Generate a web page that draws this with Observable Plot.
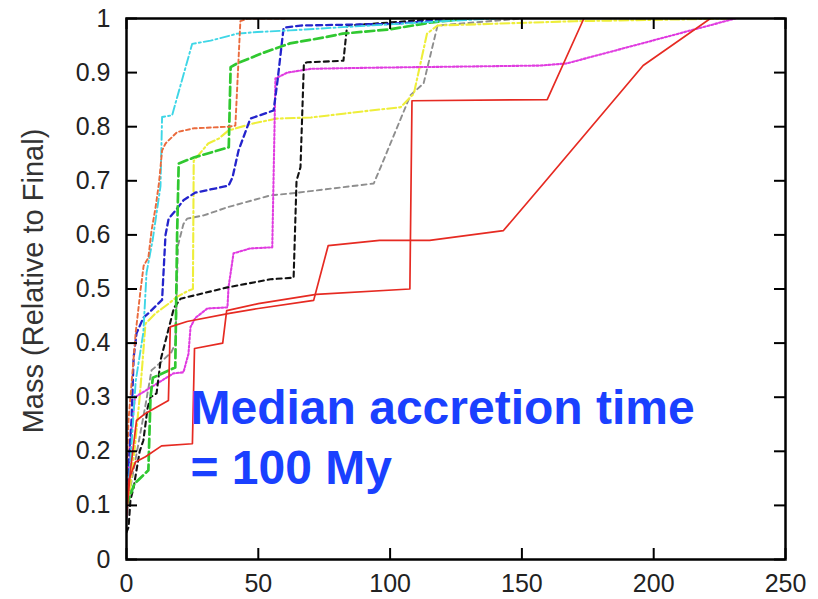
<!DOCTYPE html>
<html><head><meta charset="utf-8">
<script src="https://cdn.jsdelivr.net/npm/d3@7"></script>
<script src="https://cdn.jsdelivr.net/npm/@observablehq/plot@0.6"></script>
<style>body{margin:0;background:#fff} #chart svg{display:block}</style>
</head><body><div id="chart"></div>
<script>
// ---- data ----
const xTicks = [0, 50, 100, 150, 200, 250];
const yTicks = [0, 0.1, 0.2, 0.3, 0.4, 0.5, 0.6, 0.7, 0.8, 0.9, 1];
const yLabel = "Mass (Relative to Final)";
const annotation = "Median accretion time\n= 100 My";

const redA = [[0,0.10],[0.8,0.146],[3.4,0.18],[7.2,0.19],[13.3,0.21],[25,0.214],[25.8,0.39],[36.5,0.40],[38,0.46],[50,0.473],[72,0.49],[107.5,0.50],[108.3,0.848],[159.6,0.85],[173.5,1.0]];
const redB = [[0,0.08],[1.5,0.165],[3.8,0.257],[7.2,0.27],[15.9,0.294],[16.6,0.43],[23,0.44],[39,0.455],[50,0.464],[71,0.479],[76.5,0.58],[96,0.59],[115,0.59],[143,0.608],[157,0.688],[196,0.913],[221.5,1.0]];
const orange = [[0,0.15],[0.8,0.26],[2,0.33],[3.5,0.42],[5.3,0.497],[6.5,0.543],[8.3,0.558],[9.5,0.608],[11,0.65],[12.3,0.695],[13.5,0.756],[14.8,0.769],[19.2,0.79],[25.5,0.797],[38.7,0.8],[41.3,0.802],[43.2,0.995],[46,1.0],[60,1.0]];
const cyan = [[0,0.12],[1,0.15],[2,0.22],[3.5,0.33],[6.4,0.42],[7.6,0.53],[9.9,0.59],[12.9,0.69],[13.5,0.818],[17.3,0.821],[24.9,0.953],[31.9,0.959],[42,0.972],[49.6,0.975],[62,0.978],[82,0.984],[92.6,0.987],[120,0.995],[140,1.0]];
const green = [[0,0.1],[3,0.14],[8.3,0.165],[9.1,0.3],[10,0.336],[18.5,0.355],[19.2,0.6],[19.8,0.732],[25.5,0.743],[38.8,0.762],[39.5,0.91],[42,0.917],[51,0.935],[62,0.954],[75,0.965],[82,0.972],[100,0.98],[116,0.993],[130,1.0]];
const blue = [[0,0.1],[0.8,0.18],[1.9,0.257],[2.7,0.373],[3.8,0.418],[6.4,0.447],[8.3,0.455],[13.5,0.48],[14.8,0.6],[16,0.63],[18.6,0.645],[21.6,0.664],[26,0.678],[38.7,0.691],[40.2,0.706],[42.5,0.756],[47,0.815],[55.8,0.83],[57.3,0.885],[59.6,0.983],[66,0.987],[100,0.99],[130,1.0]];
const black = [[0,0.05],[0.8,0.06],[1.5,0.11],[2.7,0.133],[5,0.2],[6.4,0.22],[8,0.28],[9.1,0.3],[11.4,0.307],[13,0.37],[16.7,0.44],[18,0.465],[20.5,0.482],[38.3,0.503],[54.6,0.518],[63.4,0.521],[64.5,0.7],[66,0.725],[67.3,0.917],[68.6,0.919],[82.3,0.922],[83.7,0.987],[92.6,0.99],[120,1.0]];
const magenta = [[0,0.08],[0.8,0.15],[1.5,0.22],[3.2,0.3],[17.8,0.344],[21.6,0.346],[23.5,0.38],[24.3,0.43],[26.2,0.447],[30.7,0.464],[38.3,0.466],[38.7,0.503],[40.6,0.566],[47,0.575],[55.3,0.577],[56.5,0.889],[61,0.9],[70,0.907],[92.6,0.909],[157,0.913],[167,0.917],[182.5,0.937],[231,1.0]];
const yellow = [[0,0.1],[1,0.12],[3,0.2],[5,0.3],[6,0.36],[7.2,0.436],[11,0.455],[16,0.473],[19,0.485],[23.5,0.497],[25.2,0.5],[25.5,0.737],[31,0.769],[35,0.778],[38.7,0.793],[48,0.806],[57,0.815],[70,0.817],[92.6,0.83],[104,0.836],[109,0.861],[114,0.972],[118,0.987],[170,0.995],[230,1.0]];
const gray = [[0,0.07],[1,0.12],[4,0.2],[7,0.28],[9.5,0.35],[12,0.36],[17,0.383],[18.6,0.40],[19.5,0.58],[21.6,0.62],[23,0.63],[29.3,0.636],[38.2,0.651],[54.6,0.673],[64.8,0.678],[93.8,0.695],[96.4,0.725],[107.7,0.858],[112.7,0.88],[118,0.987],[150,1.0]];

// ---- styles ----
const seriesStyles = [
  {data: gray,    stroke: "#8e8e8e", dash: "5,4",     width: 1.9},
  {data: yellow,  stroke: "#eeee3a", dash: "9,3,2,3", width: 2.1},
  {data: magenta, stroke: "#e03ce0", dash: "2,2",     width: 2.1},
  {data: black,   stroke: "#111111", dash: "5,4",     width: 2.1},
  {data: blue,    stroke: "#2424cc", dash: "6,4",     width: 2.3},
  {data: green,   stroke: "#30c830", dash: "9,4",     width: 2.7},
  {data: cyan,    stroke: "#3ed6e6", dash: "9,3,2,3", width: 1.9},
  {data: orange,  stroke: "#ea6a3c", dash: "4,3",     width: 1.9},
  {data: redB,    stroke: "#e62a22", dash: null,      width: 1.7},
  {data: redA,    stroke: "#e62a22", dash: null,      width: 1.7}
];

const W = 818, H = 599;
const M = {top: 18, right: 33, bottom: 40, left: 126};
const fw = W - M.left - M.right, fh = H - M.top - M.bottom;
const tl = 11;
const font = "'Liberation Sans', Arial, Helvetica, sans-serif";

const marks = [];
for (const s of seriesStyles) {
  marks.push(Plot.line(s.data, {x: d => d[0], y: d => d[1], stroke: s.stroke, strokeWidth: s.width,
    strokeDasharray: s.dash ?? undefined, strokeLinejoin: "round", clip: true}));
}
marks.push(
  Plot.tickX(xTicks, {x: d => d, insetTop: fh - tl, stroke: "#000", strokeWidth: 2}),
  Plot.tickX(xTicks, {x: d => d, insetBottom: fh - tl, stroke: "#000", strokeWidth: 2}),
  Plot.tickY(yTicks, {y: d => d, insetRight: fw - tl, stroke: "#000", strokeWidth: 2}),
  Plot.tickY(yTicks, {y: d => d, insetLeft: fw - tl, stroke: "#000", strokeWidth: 2}),
  Plot.frame({stroke: "#000", strokeWidth: 2.5}),
  Plot.axisX(xTicks, {tickSize: 0, tickPadding: 15, fontSize: 25, label: null, fill: "#222", tickFormat: d => String(d)}),
  Plot.axisY(yTicks, {tickSize: 0, tickPadding: 16, fontSize: 25, label: null, fill: "#222", tickFormat: d => String(d)}),
  Plot.text([yLabel], {text: d => d, frameAnchor: "left", textAnchor: "middle", rotate: -90, dx: -93, dy: -8, fontSize: 29, fill: "#333"}),
  Plot.text([annotation], {text: d => d, frameAnchor: "top-left", dx: 64, dy: 363, lineAnchor: "top",
    textAnchor: "start", fill: "#1a40ff", fontSize: 48, fontWeight: "bold", lineHeight: 1.25})
);

const chart = Plot.plot({
  width: W, height: H,
  marginTop: M.top, marginRight: M.right, marginBottom: M.bottom, marginLeft: M.left,
  x: {domain: [0, 250]},
  y: {domain: [0, 1]},
  style: {fontFamily: font, background: "#fff"},
  marks
});
document.getElementById("chart").appendChild(chart);
</script>
</body></html>
